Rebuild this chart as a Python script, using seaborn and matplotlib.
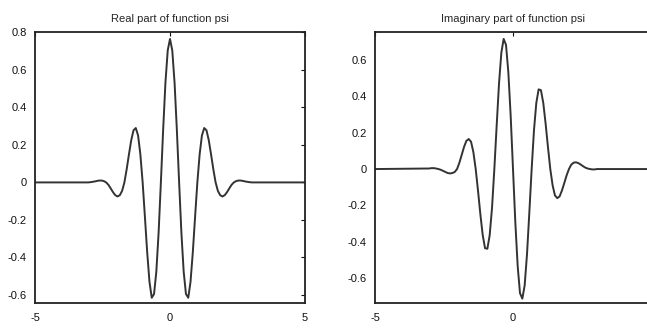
import numpy as np
import pandas as pd
import seaborn as sns
import matplotlib
matplotlib.use("Agg")
import matplotlib.pyplot as plt

# sample positions, tails padded out to the axis limits
x = [-5.0,
     -3.040, -2.956, -2.871, -2.787, -2.702, -2.618, -2.534, -2.449, -2.365, -2.280,
     -2.196, -2.111, -2.027, -1.942, -1.858, -1.773, -1.689, -1.605, -1.520, -1.436,
     -1.351, -1.267, -1.182, -1.098, -1.013, -0.929, -0.845, -0.760, -0.676, -0.591,
     -0.507, -0.422, -0.338, -0.253, -0.169, -0.084,
     0.0,
     0.084, 0.169, 0.253, 0.338, 0.422, 0.507, 0.591, 0.676, 0.760, 0.845,
     0.929, 1.013, 1.098, 1.182, 1.267, 1.351, 1.436, 1.520, 1.605, 1.689,
     1.773, 1.858, 1.942, 2.027, 2.111, 2.196, 2.280, 2.365, 2.449, 2.534,
     2.618, 2.702, 2.787, 2.871, 2.956, 3.040,
     5.0]

real_psi = [0.0,
            0.0, 0.001, 0.003, 0.005, 0.008, 0.010, 0.010, 0.007, 0.0, -0.013,
            -0.032, -0.052, -0.068, -0.075, -0.068, -0.045, 0.0, 0.070, 0.150, 0.225,
            0.278, 0.290, 0.250, 0.150, 0.0, -0.184, -0.372, -0.530, -0.615, -0.595,
            -0.477, -0.268, 0.0, 0.283, 0.532, 0.704,
            0.765,
            0.704, 0.532, 0.283, 0.0, -0.268, -0.477, -0.595, -0.615, -0.530, -0.372,
            -0.184, 0.0, 0.150, 0.250, 0.290, 0.278, 0.225, 0.150, 0.070, 0.0,
            -0.045, -0.068, -0.075, -0.068, -0.052, -0.032, -0.013, 0.0, 0.007, 0.010,
            0.010, 0.008, 0.005, 0.003, 0.001, 0.0,
            0.0]

imag_psi = [0.0,
            0.003, 0.005, 0.005, 0.003, 0.0, -0.004, -0.010, -0.016, -0.022, -0.024,
            -0.022, -0.016, 0.0, 0.035, 0.078, 0.122, 0.155, 0.165, 0.150, 0.093,
            0.0, -0.120, -0.249, -0.362, -0.435, -0.438, -0.364, -0.213, 0.0, 0.241,
            0.469, 0.640, 0.715, 0.682, 0.532, 0.292,
            0.0,
            -0.292, -0.532, -0.682, -0.712, -0.640, -0.469, -0.241, 0.0, 0.213, 0.364,
            0.438, 0.433, 0.362, 0.249, 0.120, 0.0, -0.090, -0.145, -0.160, -0.150,
            -0.118, -0.077, -0.035, 0.0, 0.024, 0.035, 0.037, 0.033, 0.025, 0.016,
            0.008, 0.003, 0.0, -0.002, -0.002, 0.0,
            0.0]

titles = ["Real part of function psi", "Imaginary part of function psi"]
xticks = [-5, 0, 5]
yticks_real = [-0.6, -0.4, -0.2, 0, 0.2, 0.4, 0.6, 0.8]
yticks_imag = [-0.6, -0.4, -0.2, 0, 0.2, 0.4, 0.6]
ylim_real = (-0.643, 0.802)
ylim_imag = (-0.736, 0.753)

df = pd.DataFrame({"x": x, "real": real_psi, "imag": imag_psi})

sns.set_style("white")
plt.rcParams["font.family"] = ["Liberation Sans Narrow", "Liberation Sans", "DejaVu Sans"]

fig = plt.figure(figsize=(6.47, 3.31), dpi=100)
ax1 = fig.add_axes([35 / 647, 28 / 331, 270 / 647, 271 / 331])
# right panel runs past the figure edge, as in the original
ax2 = fig.add_axes([375 / 647, 28 / 331, 276 / 647, 271 / 331])

for ax, col, title, yt, yl in [(ax1, "real", titles[0], yticks_real, ylim_real),
                               (ax2, "imag", titles[1], yticks_imag, ylim_imag)]:
    sns.lineplot(data=df, x="x", y=col, ax=ax, color="#333333", linewidth=1.4,
                 estimator=None, sort=False)
    ax.set_xlim(-5, 5)
    ax.set_ylim(*yl)
    ax.set_xticks(xticks)
    ax.set_xticklabels([str(t) for t in xticks])
    ax.set_yticks(yt)
    ax.set_yticklabels([("%g" % t) for t in yt])
    ax.set_xlabel("")
    ax.set_ylabel("")
    ax.set_title(title, fontsize=8, pad=7)
    ax.tick_params(direction="in", length=3, width=0.8, top=True, right=True,
                   labelsize=8, colors="#111111")
    ax.tick_params(axis="y", pad=6)
    ax.tick_params(axis="x", pad=7)
    for s in ax.spines.values():
        s.set_linewidth(1.3)
        s.set_color("#222222")
        s.set_visible(True)

fig.savefig("out.png", dpi=100)
